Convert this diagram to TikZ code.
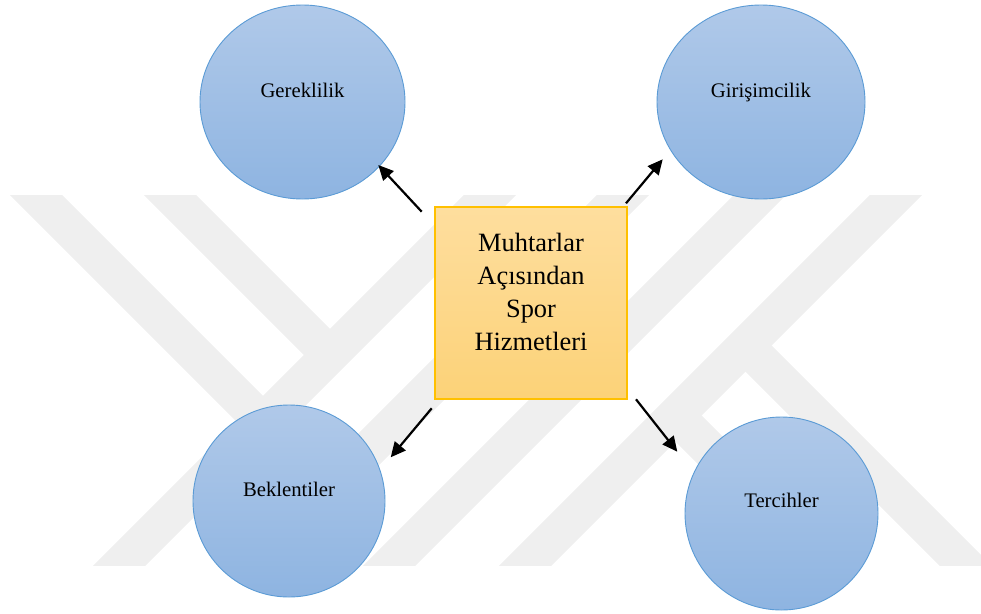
\documentclass[tikz,border=0pt]{standalone}
\usepackage{fontspec}
\setmainfont{Liberation Serif}
\usetikzlibrary{shapes.geometric,arrows.meta,calc}
\definecolor{wm}{RGB}{239,239,239}
\definecolor{ctop}{RGB}{176,201,233}
\definecolor{cbot}{RGB}{142,180,225}
\definecolor{cline}{RGB}{91,155,213}
\definecolor{btop}{RGB}{254,222,158}
\definecolor{bbot}{RGB}{252,210,120}
\definecolor{bline}{RGB}{255,192,0}
\begin{document}
\begin{tikzpicture}[x=1pt,y=-1pt,
  wmstroke/.style={draw=wm, line width=36.8pt},
  bubble/.style={ellipse, draw=cline, line width=0.9pt, top color=ctop, bottom color=cbot, inner sep=0pt, outer sep=0pt},
  ctext/.style={font=\fontsize{20.7}{24}\selectfont, text height=14pt, text depth=0pt, inner sep=0pt},
  hub/.style={rectangle, draw=bline, line width=1.1pt, top color=btop, bottom color=bbot, minimum width=192pt, minimum height=192pt, inner sep=0pt, outer sep=0pt},
  hubtext/.style={font=\fontsize{26.4}{32.7}\selectfont, align=center, inner sep=0pt},
  arr/.style={line width=2.2pt, -{Triangle[length=15pt,width=14pt]}}
]
\useasboundingbox (0,0) rectangle (981,613);
% watermark
\begin{scope}
\clip (0,195) rectangle (981,565);
\draw[wmstroke] (540,145) -- (70,615);
\draw[wmstroke] (-14,145) -- (263,422);
\draw[wmstroke] (120,145) -- (330,355);
\draw[wmstroke] (946,145) -- (476,615);
\draw[wmstroke] (745.5,345.5) -- (1015,615);
\draw[wmstroke] (675.5,415.5) -- (875,615);
\draw[wmstroke] (810,145) -- (340,615);
\draw[wmstroke] (673,145) -- (203,615);
\end{scope}
% nodes
\node[bubble, minimum width=205pt, minimum height=194pt,
  label={[ctext, yshift=11.7pt]center:Gereklilik}] (ger) at (302.5,102) {};
\node[bubble, minimum width=208pt, minimum height=194pt,
  label={[ctext, yshift=11.7pt]center:Girişimcilik}] (gir) at (761,102) {};
\node[bubble, minimum width=192pt, minimum height=192pt,
  label={[ctext, yshift=11.3pt]center:Beklentiler}] (bek) at (289,501) {};
\node[bubble, minimum width=193pt, minimum height=193pt,
  label={[ctext, yshift=12.8pt]center:Tercihler}] (ter) at (781.5,513.5) {};
\node[hub, label={[hubtext, yshift=11pt]center:{Muhtarlar\\Açısından\\Spor\\Hizmetleri}}] (box) at (531,303) {};
% connectors
\draw[arr] ($(box.north west)+(-13.3,4.7)$) -- ($(ger.center)+(75.8,63)$);
\draw[arr] ($(box.north east)+(-1,-3.7)$) -- ($(gir.center)+(-98.3,57.3)$);
\draw[arr] ($(box.south west)+(-3.3,9.3)$) -- ($(bek.center)+(101.7,-43.7)$);
\draw[arr] ($(box.south east)+(9,0.3)$) -- ($(ter.center)+(-104.2,-61.8)$);
\end{tikzpicture}
\end{document}
